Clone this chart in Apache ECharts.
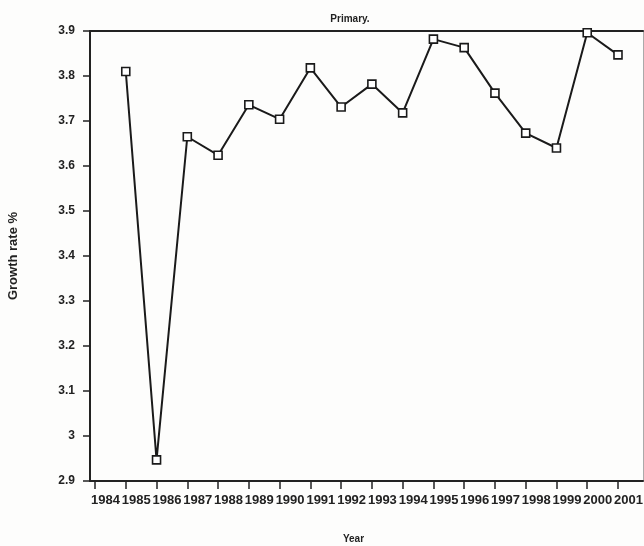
<!DOCTYPE html>
<html>
<head>
<meta charset="utf-8">
<script src="https://cdn.jsdelivr.net/npm/echarts@6/dist/echarts.min.js"></script>
<style>
html,body{margin:0;padding:0;background:#fdfdfc;}
#c{width:644px;height:546px;}
</style>
</head>
<body>
<div id="c"></div>
<script>
const years = [1984,1985,1986,1987,1988,1989,1990,1991,1992,1993,1994,1995,1996,1997,1998,1999,2000,2001];
const growth = [null,3.810,2.947,3.665,3.624,3.736,3.704,3.818,3.731,3.782,3.718,3.882,3.863,3.762,3.673,3.640,3.896,3.847];
const titleText = "Primary.";
const xName = "Year";
const yName = "Growth rate %";

const seriesData = years.map((y,i) => [y, growth[i]]);
const xMin = 1983.837, xMax = 2001.813;
const font = "Liberation Sans";

const chart = echarts.init(document.getElementById('c'), null, {renderer:'canvas'});
chart.setOption({
  backgroundColor: '#fdfdfc',
  animation: false,
  title: {
    text: titleText, left: 345, top: 9, textAlign: 'center',
    textStyle: {fontFamily: font, fontSize: 10, fontWeight: 'bold', color: '#222'}
  },
  grid: {left: 90, right: 1, top: 31, bottom: 65, containLabel: false, outerBoundsMode: 'none'},
  xAxis: [{
    type: 'value', min: xMin, max: xMax,
    name: xName, nameLocation: 'middle', nameGap: 53,
    nameTextStyle: {fontFamily: font, fontSize: 10, fontWeight: 'bold', color: '#222', padding: [0,26,0,0]},
    axisLine: {show: true, lineStyle: {color: '#222', width: 2}},
    axisTick: {show: true, length: 8, customValues: years, lineStyle: {color: '#222', width: 1.5}},
    axisLabel: {
      customValues: years, formatter: v => String(v),
      fontFamily: font, fontSize: 13, fontWeight: 'bold', color: '#222',
      margin: 13, align: 'center', padding: [0,0,0,21]
    },
    splitLine: {show: false}
  },{
    type: 'value', min: xMin, max: xMax, position: 'top',
    axisLine: {show: true, onZero: false, lineStyle: {color: '#222', width: 2}},
    axisTick: {show: false}, axisLabel: {show: false}, splitLine: {show: false}
  }],
  yAxis: [{
    type: 'value', min: 2.9, max: 3.9, interval: 0.1,
    name: yName, nameLocation: 'middle', nameGap: 70, nameRotate: 90,
    nameTextStyle: {fontFamily: font, fontSize: 13, fontWeight: 'bold', color: '#222'},
    axisLine: {show: true, lineStyle: {color: '#222', width: 2}},
    axisTick: {show: true, length: 7, lineStyle: {color: '#222', width: 1.5}},
    axisLabel: {fontFamily: font, fontSize: 12, fontWeight: 'bold', color: '#222', margin: 15},
    splitLine: {show: false}
  },{
    type: 'value', min: 2.9, max: 3.9, position: 'right',
    axisLine: {show: true, lineStyle: {color: '#aaa', width: 1}},
    axisTick: {show: false}, axisLabel: {show: false}, splitLine: {show: false}
  }],
  series: [{
    type: 'line', xAxisIndex: 0, yAxisIndex: 0,
    data: seriesData,
    symbol: 'rect', symbolSize: 8, showAllSymbol: true,
    lineStyle: {color: '#1a1a1a', width: 2},
    itemStyle: {color: '#fff', borderColor: '#1a1a1a', borderWidth: 1.6},
    connectNulls: false
  }]
});
</script>
</body>
</html>
